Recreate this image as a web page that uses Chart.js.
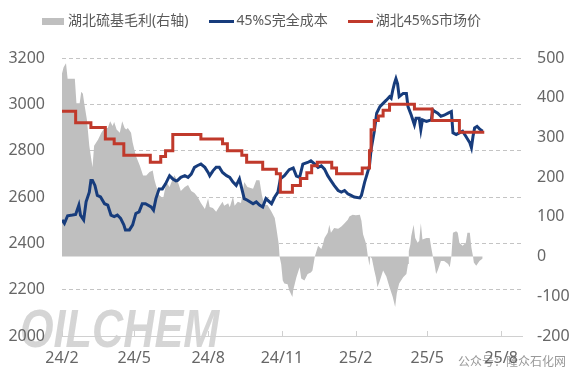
<!DOCTYPE html>
<html lang="zh">
<head>
<meta charset="utf-8">
<title>湖北硫基毛利</title>
<script src="https://cdn.jsdelivr.net/npm/chart.js@4.4.1/dist/chart.umd.min.js"></script>
<style>
    html, body { margin: 0; padding: 0; background: #ffffff; }
    canvas { display: block; }
</style>
</head>
<body>
<canvas id="grafico-enxofre" width="582" height="378"></canvas>
<script>
// Eixo X: dias contados a partir de 2024-02-01
const dataInicial = '2024-02-01';
const datasEixoX = ['2024-02-01', '2024-05-01', '2024-08-01', '2024-11-01', '2025-02-01', '2025-05-01', '2025-08-01'];
const rotulosEixoX = ['24/2', '24/5', '24/8', '24/11', '25/2', '25/5', '25/8'];
const ultimoDiaEixo = 573;

// Nomes das series (legenda)
const nomesSeries = ['湖北硫基毛利(右轴)', '45%S完全成本', '湖北45%S市场价'];

// Serie 1: 湖北硫基毛利 (eixo direito), dias e valores
const diasMargem = [
    0, 2, 5, 7, 16, 18, 22, 24, 26, 28, 31, 34, 38, 40, 45, 49, 53, 57, 60, 63,
    65, 68, 72, 75, 78, 80, 82, 86, 88, 92, 97, 101, 105, 109, 113, 115, 117, 121, 126, 130,
    134, 138, 140, 144, 148, 153, 157, 161, 165, 169, 173, 178, 182, 184, 188, 192, 196, 200, 202, 207,
    209, 213, 215, 219, 223, 227, 231, 238, 242, 246, 249, 252, 256, 261, 265, 267, 270, 271, 273, 275,
    277, 281, 283, 287, 288, 292, 296, 298, 302, 306, 310, 312, 315, 319, 323, 325, 327, 331, 333, 335,
    339, 344, 348, 352, 356, 358, 362, 366, 371, 373, 375, 379, 381, 383, 384, 386, 389, 391, 393, 396,
    400, 404, 408, 412, 415, 417, 420, 425, 429, 431, 432, 434, 435, 438, 440, 443, 445, 447, 449, 454,
    458, 460, 462, 464, 466, 468, 472, 476, 481, 483, 485, 487, 491, 493, 495, 499, 503, 505, 508, 510,
    512, 513, 516, 520, 524
];
const valoresMargem = [
    461, 477, 487, 448, 448, 386, 386, 415, 410, 382, 345, 279, 225, 279, 295, 312, 324, 324, 341, 329,
    339, 320, 312, 341, 324, 320, 324, 312, 287, 254, 229, 204, 204, 213, 217, 195, 180, 155, 146, 188,
    175, 196, 205, 190, 165, 175, 180, 165, 160, 150, 135, 120, 146, 125, 122, 113, 126, 138, 128, 134,
    124, 151, 128, 138, 135, 188, 175, 171, 192, 192, 155, 130, 130, 113, 97, 72, 31, 0, -19, -60,
    -68, -70, -85, -102, -85, -52, -27, -55, -60, -44, -40, -35, 0, 27, 19, 31, 47, 60, 80, 60,
    72, 70, 76, 84, 93, 101, 105, 104, 105, 90, 56, 31, 0, -23, 0, -5, -35, -52, -77, -60,
    -35, -50, -77, -102, -127, -93, -68, -52, -44, -19, 14, 31, 51, 80, 47, 35, 40, 84, 43, 47,
    47, 22, 0, -19, -44, -35, -11, -11, -19, -27, 0, 60, 64, 60, 35, 27, 35, 60, 60, 22,
    0, -15, -23, -11, -5
];

// Serie 2: 45%S完全成本
const diasCusto = [
    0, 3, 7, 13, 17, 21, 23, 27, 30, 34, 36, 38, 41, 44, 48, 53, 57, 61, 65, 69,
    73, 77, 79, 84, 88, 92, 96, 100, 104, 111, 114, 117, 121, 125, 129, 134, 138, 142, 144, 148,
    153, 157, 161, 165, 169, 173, 178, 182, 184, 188, 192, 196, 200, 205, 209, 213, 217, 221, 225, 227,
    231, 238, 242, 246, 250, 254, 261, 265, 269, 272, 277, 283, 288, 292, 296, 300, 306, 310, 315, 319,
    323, 327, 331, 335, 339, 344, 348, 352, 356, 360, 364, 371, 373, 377, 380, 383, 385, 389, 392, 396,
    400, 404, 408, 410, 412, 414, 416, 418, 420, 425, 429, 431, 435, 439, 441, 445, 447, 449, 454, 460,
    462, 464, 468, 472, 476, 481, 485, 487, 491, 495, 499, 503, 508, 510, 512, 514, 517, 520, 524
];
const valoresCusto = [
    2501, 2486, 2519, 2522, 2525, 2565, 2522, 2501, 2579, 2621, 2671, 2671, 2650, 2607, 2600, 2571, 2565, 2522, 2515, 2522,
    2508, 2480, 2458, 2458, 2480, 2529, 2536, 2571, 2571, 2557, 2543, 2593, 2635, 2635, 2657, 2692, 2678, 2670, 2672, 2685,
    2692, 2685, 2699, 2728, 2736, 2742, 2728, 2706, 2692, 2713, 2728, 2728, 2706, 2692, 2685, 2664, 2650, 2678, 2621, 2593,
    2586, 2571, 2579, 2565, 2557, 2593, 2571, 2600, 2621, 2678, 2692, 2718, 2725, 2690, 2685, 2742, 2749, 2756, 2742, 2728,
    2735, 2720, 2692, 2671, 2650, 2628, 2621, 2628, 2614, 2607, 2600, 2596, 2607, 2664, 2699, 2735, 2805, 2884, 2962, 2990,
    3004, 3018, 3033, 3026, 3061, 3089, 3111, 3089, 3033, 3047, 3047, 2990, 2954, 2912, 2940, 2940, 2891, 2933, 2926, 2933,
    2976, 2970, 2962, 2948, 2953, 2962, 2969, 2877, 2870, 2877, 2884, 2862, 2834, 2813, 2862, 2898, 2905, 2894, 2884
];

// Serie 3: 湖北45%S市场价 (inicio de cada patamar)
const diasPreco = [
    0, 17, 36, 54, 65, 77, 110, 123, 129, 138, 173, 200, 206, 224, 230, 250, 267, 272,
    287, 297, 305, 311, 318, 336, 342, 374, 383, 385, 389, 394, 400, 408, 439, 461, 495, 526
];
const valoresPreco = [
    2970, 2920, 2900, 2850, 2830, 2780, 2750, 2775, 2800, 2870, 2850, 2830, 2800, 2780, 2750, 2720, 2700, 2620,
    2650, 2680, 2705, 2735, 2750, 2725, 2700, 2725, 2800, 2890, 2930, 2950, 2975, 3000, 2980, 2930, 2880, 2880
];

// Cores
const corMargem = '#bfbfbf';
const corCusto = '#173c7c';
const corPreco = '#c0392b';
const corTexto = '#666666';

const fonteNumeros = '"Noto Sans", "DejaVu Sans", sans-serif';
const fonteLegenda = '"Noto Sans", "Noto Sans CJK SC", sans-serif';
const fonteCJK = '"Noto Sans CJK SC", "Noto Sans", sans-serif';

// Converte data 'AAAA-MM-DD' em dias desde a data inicial
function diasDesde(data) {
    return Math.round((Date.parse(data) - Date.parse(dataInicial)) / 86400000);
}

const diasTicks = datasEixoX.map(diasDesde);

// Junta dias e valores em pontos {x, y}
function montarPontos(dias, valores) {
    return dias.map((d, i) => ({ x: d, y: valores[i] }));
}

// Icone pequeno para a legenda
function criarIcone(cor, largura, altura) {
    const c = document.createElement('canvas');
    c.width = largura;
    c.height = altura;
    const g = c.getContext('2d');
    g.fillStyle = cor;
    g.fillRect(0, 0, largura, altura);
    return c;
}

// Ajusta a posicao da legenda (mais para cima e para a direita)
const ajusteLegenda = {
    id: 'ajusteLegenda',
    afterLayout(chart) {
        chart.legend.left += 20;
        chart.legend.top -= 20;
    }
};

// Marca d'agua e tracinhos internos do eixo X
const marcaDagua = {
    id: 'marcaDagua',
    beforeDraw(chart) {
        const ctx = chart.ctx;
        const area = chart.chartArea;
        ctx.save();
        const grad = ctx.createLinearGradient(0, area.bottom - 31, 0, area.bottom + 11);
        grad.addColorStop(0, 'rgba(195,195,195,0.7)');
        grad.addColorStop(1, 'rgba(235,235,235,0.4)');
        ctx.fillStyle = grad;
        ctx.font = 'italic bold 54px "Liberation Sans", sans-serif';
        ctx.textBaseline = 'alphabetic';
        ctx.translate(area.left - 42, area.bottom + 11);
        ctx.scale(0.8, 1);
        ctx.fillText('OILCHEM', 0, 0);
        ctx.restore();

        ctx.save();
        ctx.fillStyle = 'rgba(110,110,110,0.7)';
        ctx.font = '12px ' + fonteCJK;
        ctx.textBaseline = 'alphabetic';
        ctx.fillText('公众号：隆众石化网', chart.width - 124, chart.height - 12);
        ctx.restore();
    },
    afterDatasetsDraw(chart) {
        const ctx = chart.ctx;
        const escalaX = chart.scales.x;
        const base = chart.chartArea.bottom;
        ctx.save();
        ctx.strokeStyle = '#d0d0d0';
        ctx.lineWidth = 1;
        diasTicks.forEach(d => {
            const px = Math.round(escalaX.getPixelForValue(d)) + 0.5;
            ctx.beginPath();
            ctx.moveTo(px, base - 5);
            ctx.lineTo(px, base);
            ctx.stroke();
        });
        ctx.restore();
    }
};

function inicializarGrafico() {
    const ctx = document.getElementById('grafico-enxofre').getContext('2d');

    new Chart(ctx, {
        type: 'line',
        data: {
            datasets: [
                {
                    label: nomesSeries[0],
                    data: montarPontos(diasMargem, valoresMargem),
                    yAxisID: 'y1',
                    backgroundColor: corMargem,
                    borderColor: corMargem,
                    borderWidth: 0,
                    fill: 'origin',
                    pointRadius: 0,
                    pointStyle: criarIcone(corMargem, 22, 7),
                    tension: 0,
                    order: 3
                },
                {
                    label: nomesSeries[1],
                    data: montarPontos(diasCusto, valoresCusto),
                    yAxisID: 'y',
                    borderColor: corCusto,
                    backgroundColor: corCusto,
                    borderWidth: 3,
                    fill: false,
                    pointRadius: 0,
                    pointStyle: criarIcone(corCusto, 25, 3),
                    tension: 0,
                    order: 2
                },
                {
                    label: nomesSeries[2],
                    data: montarPontos(diasPreco, valoresPreco),
                    yAxisID: 'y',
                    borderColor: corPreco,
                    backgroundColor: corPreco,
                    borderWidth: 3,
                    fill: false,
                    stepped: true,
                    pointRadius: 0,
                    pointStyle: criarIcone(corPreco, 25, 3),
                    order: 1
                }
            ]
        },
        options: {
            responsive: false,
            animation: false,
            layout: {
                padding: { left: 0, right: 0, top: 9, bottom: 0 }
            },
            scales: {
                x: {
                    type: 'linear',
                    min: 0,
                    max: ultimoDiaEixo,
                    afterBuildTicks: escala => {
                        escala.ticks = diasTicks.map(v => ({ value: v }));
                    },
                    afterFit: escala => { escala.height = 42; },
                    ticks: {
                        autoSkip: false,
                        maxRotation: 0,
                        padding: 13,
                        color: corTexto,
                        font: { family: fonteNumeros, size: 16 },
                        callback: (valor, indice) => rotulosEixoX[indice]
                    },
                    grid: { display: false, drawTicks: false },
                    border: { display: true, color: '#d0d0d0', width: 1 }
                },
                y: {
                    position: 'left',
                    min: 2000,
                    max: 3200,
                    afterFit: escala => { escala.width = 62; },
                    ticks: {
                        stepSize: 200,
                        padding: 17,
                        color: corTexto,
                        font: { family: fonteNumeros, size: 16 },
                        callback: valor => String(valor)
                    },
                    grid: {
                        drawTicks: false,
                        lineWidth: 1,
                        color: c => (c.tick && c.tick.value === 2000) ? 'rgba(0,0,0,0)' : '#c4c4c4'
                    },
                    border: { display: false, dash: [4, 3] }
                },
                y1: {
                    position: 'right',
                    min: -200,
                    max: 500,
                    afterFit: escala => { escala.width = 60; },
                    ticks: {
                        stepSize: 100,
                        padding: 15,
                        color: corTexto,
                        font: { family: fonteNumeros, size: 16 },
                        callback: valor => String(valor)
                    },
                    grid: { drawOnChartArea: false, drawTicks: false },
                    border: { display: false }
                }
            },
            plugins: {
                legend: {
                    position: 'top',
                    align: 'start',
                    labels: {
                        usePointStyle: true,
                        pointStyleWidth: 16,
                        padding: 25,
                        color: '#595959',
                        font: { family: fonteLegenda, size: 14 },
                        sort: (a, b) => a.datasetIndex - b.datasetIndex
                    }
                },
                tooltip: { enabled: false }
            }
        },
        plugins: [ajusteLegenda, marcaDagua]
    });
}

document.addEventListener('DOMContentLoaded', function() {
    inicializarGrafico();
});
</script>
</body>
</html>
